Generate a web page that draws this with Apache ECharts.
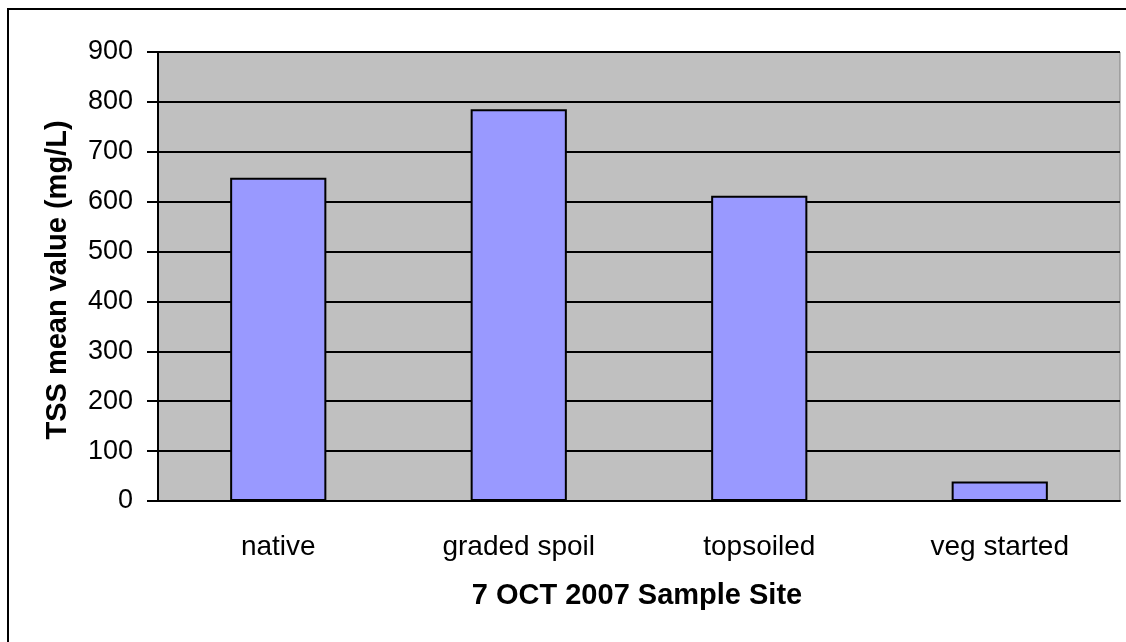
<!DOCTYPE html>
<html>
<head>
<meta charset="utf-8">
<script src="https://cdn.jsdelivr.net/npm/echarts@6/dist/echarts.min.js"></script>
<style>
  html, body { margin: 0; padding: 0; background: #fff; }
  #chart { width: 1126px; height: 642px; }
</style>
</head>
<body>
<div id="chart"></div>
<script>
// 数据
const categories = ['native', 'graded spoil', 'topsoiled', 'veg started']
const tssMean = [648, 785, 612, 39]
const yTicks = { min: 0, max: 900, interval: 100 }

const chart = echarts.init(document.getElementById('chart'))

const font = 'Liberation Sans, Arial, sans-serif'

const option = {
  animation: false,
  // 外框
  graphic: [
    {
      type: 'rect',
      shape: { x: 8, y: 9, width: 1200, height: 700 },
      style: { fill: 'none', stroke: '#000', lineWidth: 2 },
      silent: true
    }
  ],
  grid: {
    left: 158,
    right: 6,
    top: 52,
    bottom: 141,
    show: true,
    backgroundColor: '#C0C0C0',
    borderColor: '#808080',
    borderWidth: 1
  },
  xAxis: {
    type: 'category',
    data: categories,
    name: '7 OCT 2007 Sample Site',
    nameLocation: 'middle',
    nameGap: 80,
    nameTextStyle: { fontFamily: font, fontSize: 29, fontWeight: 'bold', color: '#000', padding: [0, 4, 0, 0] },
    axisLine: { lineStyle: { color: '#000', width: 2 } },
    axisTick: { length: 10, lineStyle: { color: '#000', width: 2 } },
    axisLabel: { fontFamily: font, fontSize: 28, color: '#000', margin: 32 }
  },
  yAxis: {
    type: 'value',
    min: yTicks.min,
    max: yTicks.max,
    interval: yTicks.interval,
    name: 'TSS mean value (mg/L)',
    nameLocation: 'middle',
    nameGap: 86,
    nameTextStyle: { fontFamily: font, fontSize: 29, fontWeight: 'bold', color: '#000', padding: [0, 7, 0, 0] },
    axisLine: { show: true, lineStyle: { color: '#000', width: 2 } },
    axisTick: { show: true, length: 11, lineStyle: { color: '#000', width: 2 } },
    axisLabel: { fontFamily: font, fontSize: 27, color: '#000', margin: 25 },
    splitLine: { lineStyle: { color: '#000', width: 2 } }
  },
  series: [
    {
      type: 'bar',
      data: tssMean,
      barWidth: '40%',
      itemStyle: { color: '#9999FF', borderColor: '#000', borderWidth: 2 }
    }
  ]
}

chart.setOption(option)
</script>
</body>
</html>
